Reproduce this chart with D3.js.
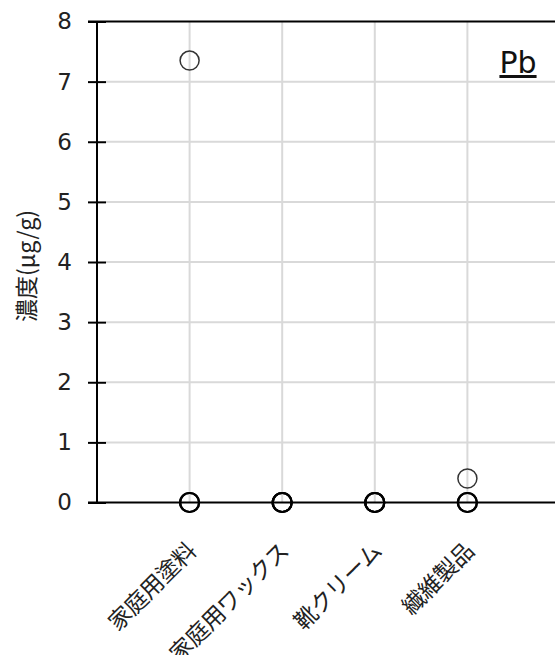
<!DOCTYPE html>
<html>
<head>
<meta charset="utf-8">
<script src="https://cdn.jsdelivr.net/npm/d3@7"></script>
<style>
  body { margin: 0; background: #fff; }
</style>
</head>
<body>
<svg></svg>
<script>
// categories and measured values (µg/g)
const categories = ["家庭用塗料", "家庭用ワックス", "靴クリーム", "繊維製品"];
const values = [
  [7.35, 0, 0],
  [0, 0, 0],
  [0, 0, 0],
  [0.4, 0, 0]
];
const yTicks = [0, 1, 2, 3, 4, 5, 6, 7, 8];

const WIDTH = 555, HEIGHT = 655;
const svg = d3.select('svg').attr('width', WIDTH).attr('height', HEIGHT);

// x is positional index: 0 at the y axis, categories at 1..4
const x = d3.scaleLinear().domain([0, 5]).range([97, 560]);
const y = d3.scaleLinear().domain([0, 8]).range([502.5, 21.5]);

const points = [];
values.forEach((vals, i) => vals.forEach(v => points.push({i: i + 1, v: v})));

// gridlines
svg.append('g').selectAll('line')
  .data(yTicks.filter(d => d > 0 && d < 8))
  .join('line')
  .attr('x1', 106).attr('x2', WIDTH)
  .attr('y1', d => y(d)).attr('y2', d => y(d))
  .attr('stroke', '#d9d9d9').attr('stroke-width', 2);

svg.append('g').selectAll('line')
  .data(categories)
  .join('line')
  .attr('x1', (d, i) => x(i + 1)).attr('x2', (d, i) => x(i + 1))
  .attr('y1', y(8)).attr('y2', y(0))
  .attr('stroke', '#d9d9d9').attr('stroke-width', 2);

// y axis
const yAxis = svg.append('g')
  .attr('transform', `translate(${x(0)},0)`)
  .call(d3.axisLeft(y).tickValues(yTicks).tickSize(9).tickPadding(16));
yAxis.select('.domain').remove();
yAxis.selectAll('.tick line').attr('x2', 9).attr('x1', -9)
  .attr('stroke', '#000').attr('stroke-width', 2);
yAxis.selectAll('.tick text')
  .attr('font-size', 23)
  .attr('fill', '#222')
  .attr('font-family', '"DejaVu Sans", sans-serif');
yAxis.append('line')
  .attr('x1', 0).attr('x2', 0).attr('y1', y(8)).attr('y2', y(0))
  .attr('stroke', '#000').attr('stroke-width', 2);

// top and bottom frame lines
svg.append('line').attr('x1', 88).attr('x2', WIDTH)
  .attr('y1', y(8)).attr('y2', y(8)).attr('stroke', '#000').attr('stroke-width', 2);
svg.append('line').attr('x1', 88).attr('x2', WIDTH)
  .attr('y1', y(0)).attr('y2', y(0)).attr('stroke', '#000').attr('stroke-width', 2);

// points - stacked zero readings show as a heavier ring
svg.append('g').selectAll('circle')
  .data(points)
  .join('circle')
  .attr('cx', d => x(d.i))
  .attr('cy', d => y(d.v))
  .attr('r', 9.5)
  .attr('fill', 'none')
  .attr('stroke', d => d.v === 0 ? '#000' : '#333')
  .attr('stroke-width', d => d.v === 0 ? 2.2 : 1.5);

// x labels
svg.append('g').selectAll('text')
  .data(categories)
  .join('text')
  .attr('transform', (d, i) => `translate(${x(i + 1) + 8},${y(0) + 50}) rotate(-45)`)
  .attr('text-anchor', 'end')
  .attr('font-size', 23)
  .attr('letter-spacing', -0.5)
  .attr('fill', '#222')
  .style('font-family', '"Noto Sans CJK JP", sans-serif')
  .text(d => d);

// y title
svg.append('text')
  .attr('transform', `translate(35,266) rotate(-90)`)
  .attr('text-anchor', 'middle')
  .attr('font-size', 23)
  .attr('fill', '#222')
  .style('font-family', '"Noto Sans CJK JP", sans-serif')
  .text('濃度(μg/g)');

// element label
svg.append('text')
  .attr('x', 518).attr('y', 73)
  .attr('text-anchor', 'middle')
  .attr('font-size', 30)
  .attr('fill', '#111')
  .attr('font-family', '"DejaVu Sans", sans-serif')
  .attr('text-decoration', 'underline')
  .text('Pb');
</script>
</body>
</html>
